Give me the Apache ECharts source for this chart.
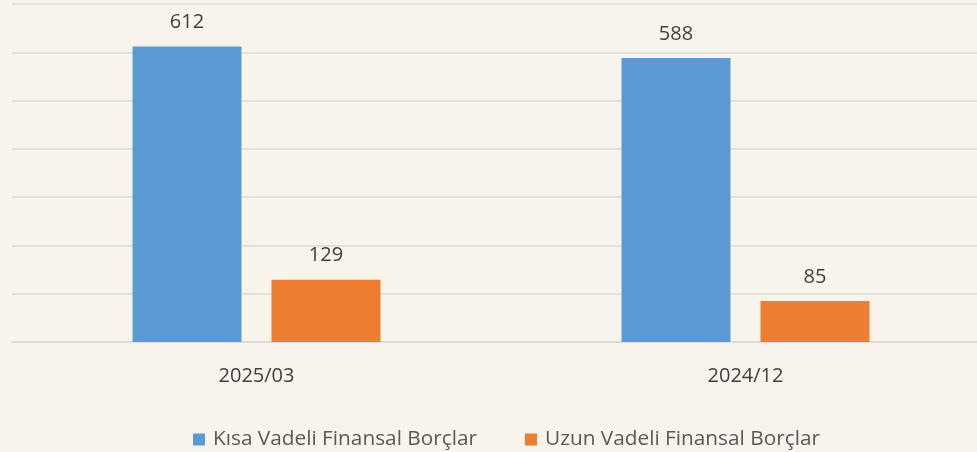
<!DOCTYPE html>
<html>
<head>
<meta charset="utf-8">
<script src="https://cdn.jsdelivr.net/npm/echarts@6/dist/echarts.min.js"></script>
<style>
  html, body { margin: 0; padding: 0; background: #f8f4eb; }
  #main { width: 977px; height: 452px; }
</style>
</head>
<body>
<div id="main"></div>
<script>
  var periods = ['2025/03', '2024/12'];
  var shortTerm = [612, 588];
  var longTerm = [129, 85];
  var seriesNames = ['Kısa Vadeli Finansal Borçlar', 'Uzun Vadeli Finansal Borçlar'];

  var chart = echarts.init(document.getElementById('main'));
  var font = 'Open Sans';
  var label = {
    show: true,
    position: 'top',
    distance: 14,
    color: '#404040',
    fontSize: 20,
    fontFamily: font
  };
  chart.setOption({
    backgroundColor: '#f8f4eb',
    animation: false,
    grid: { left: 12, top: 4, width: 978, height: 338, outerBoundsMode: 'none', containLabel: false },
    legend: {
      bottom: -3,
      left: 188,
      itemWidth: 12,
      itemHeight: 12,
      itemGap: 48,
      icon: 'rect',
      textStyle: { color: '#595959', fontSize: 20.8, fontFamily: font, padding: [0, 0, 0, 3] },
      data: seriesNames
    },
    xAxis: {
      type: 'category',
      data: periods,
      axisLine: { lineStyle: { color: '#d9d9d9', width: 1.5 } },
      axisTick: { show: false },
      axisLabel: { color: '#404040', fontSize: 20, fontFamily: font, margin: 24 }
    },
    yAxis: {
      type: 'value',
      min: 0,
      max: 700,
      interval: 100,
      axisLabel: { show: false },
      axisLine: { show: false },
      axisTick: { show: false },
      splitLine: { lineStyle: { color: '#dddbd5', width: 1.5 } }
    },
    series: [
      {
        name: seriesNames[0],
        type: 'bar',
        data: shortTerm,
        barWidth: 109,
        barGap: '27.5%',
        itemStyle: { color: '#5b9bd5' },
        label: label
      },
      {
        name: seriesNames[1],
        type: 'bar',
        data: longTerm,
        barWidth: 109,
        itemStyle: { color: '#ed7d31' },
        label: label
      }
    ]
  });
</script>
</body>
</html>
